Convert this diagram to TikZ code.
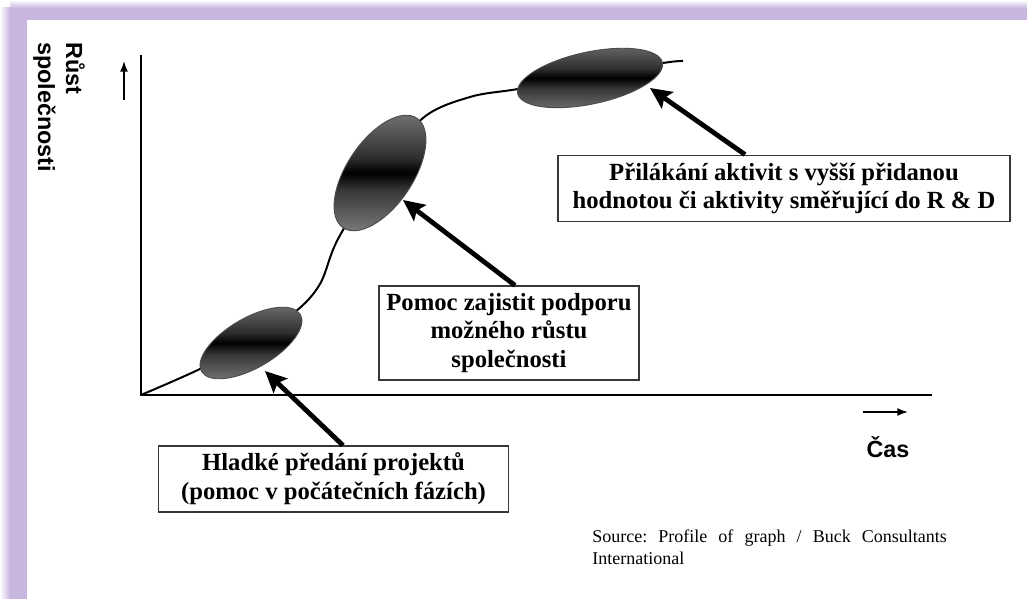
\documentclass[tikz,border=0pt]{standalone}
\usepackage{fontspec}
\setmainfont{Liberation Serif}
\setsansfont{Liberation Sans}
\usetikzlibrary{arrows.meta,calc}
\definecolor{Frame}{RGB}{201,182,224}
\definecolor{Edge}{RGB}{55,55,55}
\pgfdeclareverticalshading{phase}{100bp}{color(0bp)=(black!55); color(25bp)=(black!55);
  color(42bp)=(black!78); color(50bp)=(black); color(57bp)=(black!82); color(75bp)=(black!58); color(100bp)=(black!58)}
\tikzset{
  note/.style={draw=Edge, line width=0.9pt, fill=white, align=center, inner sep=0pt,
    font=\bfseries\fontsize{18.5}{21.5}\selectfont},
  pointer/.style={line width=3.6pt, -{Stealth[length=16pt,width=15pt,inset=3pt]}},
  blob/.style={shading=phase, draw=black!70, line width=0.7pt},
  axislabel/.style={inner sep=0pt, font=\sffamily\bfseries\fontsize{17.5}{21}\selectfont},
}
\frenchspacing

\begin{document}
\begin{tikzpicture}[x=0.75pt, y=0.75pt]
    %% Frame
    \useasboundingbox (0,0) rectangle (1027,599);
    \fill[white] (0,0) rectangle (1027,599);
    \shade[top color=white, bottom color=Frame] (10,591) rectangle (1027,599);
    \shade[left color=white, right color=Frame] (0,0) rectangle (10,591);
    \fill[Frame] (10,579) rectangle (1027,591);
    \fill[Frame] (10,0) rectangle (27,579);

    %% Axes
    \draw[line width=2.2pt] (141,544) -- (141,204) -- (932,204);
    \draw[line width=1.2pt, -{Latex[length=8pt,width=6pt]}] (124,499) -- (124,538);
    \draw[line width=1.2pt, -{Latex[length=8pt,width=6pt]}] (863,187) -- (908,187);
    \node[axislabel, rotate=-90, anchor=north west, align=left] (rust) at (85,557) {Růst\\společnosti};
    \node[axislabel] (cas) at (888,152) {Čas};

    %% Growth curve
    \draw[line width=1.5pt] plot[smooth, tension=0.55] coordinates {
      (141,204) (202,231) (250,258) (295,287) (320,315) (338,360) (380,427)
      (423,481) (470,502) (518,510) (590,523) (663,536) (683,538)};

    %% Phases
    \shade[blob, rotate around={30:(251,256)}] (251,256) ellipse [x radius=57, y radius=25];
    \shade[blob, rotate around={56:(380,426)}] (380,426) ellipse [x radius=66, y radius=33];
    \shade[blob, rotate around={12:(590,521)}] (590,521) ellipse [x radius=74, y radius=26];
    \coordinate (tipA) at (265,228);
    \coordinate (tipB) at (403,399);
    \coordinate (tipC) at (650,511);

    %% Notes
    \node[note, minimum width=262pt, minimum height=49.5pt] (predani) at (333.5,120)
      {Hladké předání projektů\\(pomoc v počátečních fázích)};
    \node[note, minimum width=195pt, minimum height=70.5pt] (podpora) at (509,266)
      {Pomoc zajistit podporu\\možného růstu\\společnosti};
    \node[note, minimum width=339pt, minimum height=50pt] (pridana) at (784,410.5)
      {Přilákání aktivit s vyšší přidanou\\hodnotou či aktivity směřující do R \& D};

    \draw[pointer] ($(predani.north west)!.527!(predani.north east)$) -- (tipA);
    \draw[pointer] ($(podpora.north west)!.523!(podpora.north east)$) -- (tipB);
    \draw[pointer] ($(pridana.north west)!.414!(pridana.north east)$) -- (tipC);

    %% Source
    \node[anchor=north west, align=left, inner sep=0pt, font=\fontsize{13.5}{16.5}\selectfont] (zdroj) at (592,69)
      {\makebox[266pt][s]{Source: Profile of graph / Buck Consultants}\\International};
\end{tikzpicture}
\end{document}
